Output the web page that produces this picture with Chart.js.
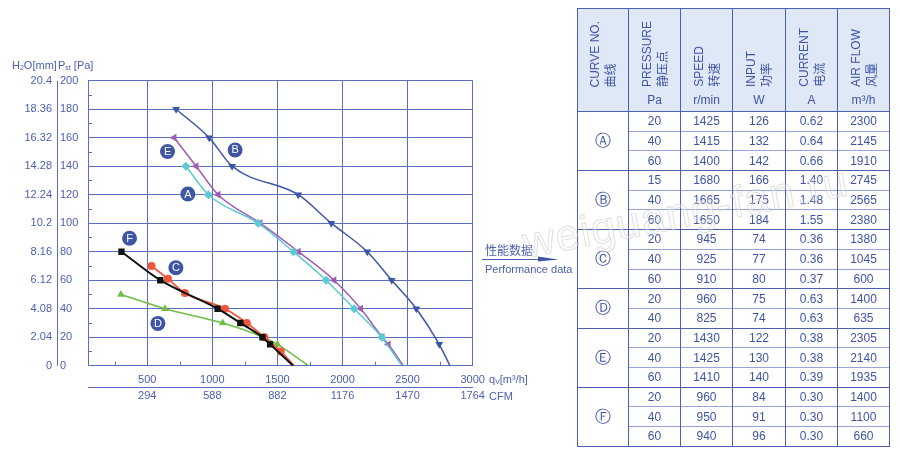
<!DOCTYPE html>
<html>
<head>
<meta charset="utf-8">
<script src="https://cdn.jsdelivr.net/npm/chart.js@4/dist/chart.umd.min.js"></script>
<style>
  body { margin: 0; width: 900px; height: 456px; background: #fff; position: relative; overflow: hidden;
         font-family: "Liberation Sans", Arial, "Noto Sans CJK SC", sans-serif; color: #4a5fb2; }
  #chart { position: absolute; left: 0; top: 0; }
  .txt { position: absolute; white-space: nowrap; font-size: 11px; line-height: 14px; }
  .txt sub { font-size: 7px; vertical-align: -1px; }
  #perf { position: absolute; left: 0; top: 0; }
  #mark { position: absolute; left: 528px; top: 218px; font-size: 44px; color: rgba(255,255,255,0.3);
          -webkit-text-stroke: 1px rgba(175,175,175,0.4); transform: rotate(-11deg); transform-origin: left bottom;
          white-space: nowrap; letter-spacing: 1px; }
  #tbl { position: absolute; left: 577px; top: 8px; width: 312px; border-collapse: collapse; table-layout: fixed;
         color: #3f54a6; font-size: 12px; }
  #tbl td, #tbl th { padding: 0; text-align: center; border-left: 1px solid #4b5fb3; border-right: 1px solid #4b5fb3; }
  #tbl th { height: 102px; background: #dfe8f6; font-weight: normal; border-top: 1.5px solid #4b5fb3; border-bottom: 1.5px solid #4b5fb3; }
  #tbl td { height: 18.7px; line-height: 18px; border-top: 1px solid #97a4da; }
  #tbl tr.first td { border-top: 1.5px solid #4b5fb3; }
  #tbl tr.last td { border-bottom: 1.5px solid #4b5fb3; }
  #tbl td.id { font-family: "DejaVu Sans", sans-serif; font-size: 16px; border-top: 1.5px solid #4b5fb3; border-bottom: 1.5px solid #4b5fb3; }
  .hd { position: relative; height: 102px; }
  .rot { position: absolute; left: 0; right: 0; margin: auto; width: 32px; bottom: 24px; writing-mode: vertical-rl;
         text-orientation: sideways; transform: rotate(180deg); line-height: 16px; text-align: start; white-space: nowrap; }
  .unit { position: absolute; left: 0; right: 0; top: 84px; line-height: 14px; }
</style>
</head>
<body>
<canvas id="chart" width="560" height="456"></canvas>
<div class="txt" style="left:12px; top:58px;">H<sub>2</sub>O[mm]</div>
<div class="txt" style="left:58px; top:58px;">P<sub>st</sub> [Pa]</div>
<div class="txt" style="left:489px; top:372px; font-size:11px;">q<sub>V</sub>[m³/h]</div>
<div class="txt" style="left:489px; top:389px; font-size:11px;">CFM</div>
<svg id="perf" width="900" height="456">
  <line x1="482" y1="259.5" x2="556" y2="259.5" stroke="#4a5fb2" stroke-width="1"/>
  <polygon points="538,256.5 558,259.5 538,261.5" fill="#3d55a6"/>
</svg>
<div class="txt" style="left:485px; top:243px; font-size:12px; font-family:'Noto Sans CJK SC',sans-serif; line-height:14px;">性能数据</div>
<div class="txt" style="left:485px; top:262px; font-size:11px;">Performance data</div>
<table id="tbl"></table>
<div id="mark">weiguang-fan.ru</div>
<script>
// flow axis (m3/h) and its CFM twin, pressure axis (Pa) and its mm H2O twin
const flowTicks = [500, 1000, 1500, 2000, 2500, 3000];
const cfmLabels = ['294', '588', '882', '1176', '1470', '1764'];
const paTicks = [0, 20, 40, 60, 80, 100, 120, 140, 160, 180, 200];
const h2oLabels = ['0', '2.04', '4.08', '6.12', '8.16', '10.2', '12.24', '14.28', '16.32', '18.36', '20.4'];

// curves: air flow (m3/h) vs static pressure (Pa)
const flowA = [797, 970, 1352, 1623, 1874, 2089, 2301, 2455];
const paA   = [140, 120, 100, 80, 60, 40, 20, 0];
const flowB = [722, 976, 1152, 1660, 1914, 2190, 2378, 2567, 2743, 2825];
const paB   = [180, 160, 140, 120, 100, 80, 60, 40, 15, 0];
const flowC = [533, 659, 789, 1097, 1265, 1400, 1526, 1628];
const paC   = [70, 61, 51, 40, 30, 20, 10, 0];
const flowD = [298, 636, 1080, 1392, 1500, 1738];
const paD   = [50, 40, 30, 20, 15, 0];
const flowE = [707, 876, 1045, 1367, 1661, 1935, 2140, 2305, 2352, 2467];
const paE   = [160, 140, 120, 100, 80, 60, 40, 20, 15, 0];
const flowF = [302, 600, 1040, 1215, 1385, 1444, 1620];
const paF   = [80, 60, 40, 30, 20, 15, 0];

// curve name badges
const badgeText = ['A', 'B', 'C', 'D', 'E', 'F'];
const badgeFlow = [812, 1175, 720, 582, 656, 364];
const badgePa   = [120.5, 151.4, 68.7, 29.7, 150.3, 89.4];

// performance table
const curveIds  = ['Ⓐ', 'Ⓑ', 'Ⓒ', 'Ⓓ', 'Ⓔ', 'Ⓕ'];
const curveRows = [3, 3, 3, 2, 3, 3];
const pressurePa = [20, 40, 60, 15, 40, 60, 20, 40, 60, 20, 40, 20, 40, 60, 20, 40, 60];
const speedRpm   = [1425, 1415, 1400, 1680, 1665, 1650, 945, 925, 910, 960, 825, 1430, 1425, 1410, 960, 950, 940];
const inputW     = [126, 132, 142, 166, 175, 184, 74, 77, 80, 75, 74, 122, 130, 140, 84, 91, 96];
const currentA   = ['0.62', '0.64', '0.66', '1.40', '1.48', '1.55', '0.36', '0.36', '0.37', '0.63', '0.63', '0.38', '0.38', '0.39', '0.30', '0.30', '0.30'];
const airflowM3h = [2300, 2145, 1910, 2745, 2565, 2380, 1380, 1045, 600, 1400, 635, 2305, 2140, 1935, 1400, 1100, 660];

const headers = [
  ['CURVE NO.', '曲线', ''], ['PRESSURE', '静压点', 'Pa'], ['SPEED', '转速', 'r/min'],
  ['INPUT', '功率', 'W'], ['CURRENT', '电流', 'A'], ['AIR FLOW', '风量', 'm³/h']
];

const tbl = document.getElementById('tbl');
let html = '<colgroup><col style="width:51px"><col style="width:52px"><col style="width:52px"><col style="width:53px"><col style="width:52px"><col style="width:52px"></colgroup>';
html += '<tr>' + headers.map(h => '<th><div class="hd"><div class="rot">' + h[0] + '<br>' + h[1] + '</div><div class="unit">' + h[2] + '</div></div></th>').join('') + '</tr>';
let r = 0;
curveIds.forEach((id, g) => {
  for (let k = 0; k < curveRows[g]; k++) {
    const cls = (k === 0 ? 'first' : '') + (k === curveRows[g] - 1 ? ' last' : '');
    html += '<tr class="' + cls + '">';
    if (k === 0) html += '<td class="id" rowspan="' + curveRows[g] + '">' + id + '</td>';
    html += '<td>' + pressurePa[r] + '</td><td>' + speedRpm[r] + '</td><td>' + inputW[r] + '</td><td>' + currentA[r] + '</td><td>' + airflowM3h[r] + '</td></tr>';
    r++;
  }
});
tbl.innerHTML = html;

const gridBlue = '#5a6ec2';
const textBlue = '#4a5fb2';
const fontFam = '"Liberation Sans", Arial, sans-serif';

function curve(flow, pa, color, style, rot, w, size) {
  return {
    data: flow.map((f, i) => ({ x: f, y: pa[i] })),
    showLine: true,
    borderColor: color,
    backgroundColor: color,
    borderWidth: w,
    pointStyle: style,
    rotation: rot,
    pointRadius: flow.map((f, i) => i === flow.length - 1 ? 0 : size),
    pointBorderWidth: 0,
    cubicInterpolationMode: 'monotone'
  };
}

const extras = {
  id: 'extras',
  beforeDatasetsDraw(chart) {
    const { ctx, scales: { x, y } } = chart;
    ctx.save();
    ctx.strokeStyle = gridBlue;
    ctx.lineWidth = 1;
    ctx.beginPath();
    for (let v = 250; v < 3000; v += 500) {
      const px = Math.round(x.getPixelForValue(v)) + 0.5;
      ctx.moveTo(px, y.bottom); ctx.lineTo(px, y.bottom - 4);
    }
    for (let v = 10; v < 200; v += 20) {
      const py = Math.round(y.getPixelForValue(v)) + 0.5;
      ctx.moveTo(x.left, py); ctx.lineTo(x.left + 4, py);
    }
    // thin rule between the two pressure scales
    ctx.moveTo(y.left - 2.5, y.top); ctx.lineTo(y.left - 2.5, y.bottom);
    ctx.stroke();
    ctx.restore();
  },
  afterDatasetsDraw(chart) {
    const { ctx, scales: { x, y } } = chart;
    ctx.save();
    ctx.font = '11px ' + fontFam;
    ctx.textAlign = 'center';
    ctx.textBaseline = 'middle';
    badgeText.forEach((t, i) => {
      const px = x.getPixelForValue(badgeFlow[i]);
      const py = y.getPixelForValue(badgePa[i]);
      ctx.fillStyle = '#3f56a6';
      ctx.beginPath(); ctx.arc(px, py, 7.5, 0, Math.PI * 2); ctx.fill();
      ctx.fillStyle = '#fff';
      ctx.fillText(t, px, py + 0.5);
    });
    ctx.restore();
  }
};

const tickFont = { size: 11, family: fontFam };

new Chart(document.getElementById('chart'), {
  type: 'scatter',
  data: {
    datasets: [
      curve(flowF, paF, '#111111', 'rect', 0, 2, 4.5),
      curve(flowC, paC, '#f0563c', 'circle', 0, 1.8, 4),
      curve(flowD, paD, '#6ebe44', 'triangle', 0, 1.5, 4.5),
      curve(flowA, paA, '#5cc9d4', 'rectRot', 0, 1.5, 4.5),
      curve(flowE, paE, '#a05cb4', 'triangle', 270, 1.5, 4.5),
      curve(flowB, paB, '#3d55a6', 'triangle', 180, 1.5, 4.5)
    ]
  },
  options: {
    responsive: false,
    animation: false,
    layout: { padding: { left: 0, top: 80.7, right: 87.3, bottom: 48.3 } },
    plugins: { legend: { display: false }, tooltip: { enabled: false } },
    scales: {
      x: {
        type: 'linear', position: 'bottom', weight: 0, min: 45, max: 3000,
        afterBuildTicks: s => { s.ticks = flowTicks.map(v => ({ value: v })); },
        afterFit: s => { s.height = 22; },
        grid: { color: gridBlue, lineWidth: 1, drawTicks: false },
        border: { color: gridBlue, width: 1 },
        ticks: { color: textBlue, font: tickFont, padding: 8, maxRotation: 0, callback: (v, i) => String(flowTicks[i]) }
      },
      x2: {
        type: 'linear', position: 'bottom', weight: 1, min: 45, max: 3000,
        afterBuildTicks: s => { s.ticks = flowTicks.map(v => ({ value: v })); },
        afterFit: s => { s.height = 20; },
        grid: { drawOnChartArea: false, drawTicks: false },
        border: { color: gridBlue, width: 1 },
        ticks: { color: textBlue, font: tickFont, padding: 2, maxRotation: 0, callback: (v, i) => cfmLabels[i] }
      },
      y: {
        type: 'linear', position: 'left', weight: 0, min: 0, max: 200,
        afterBuildTicks: s => { s.ticks = paTicks.map(v => ({ value: v })); },
        afterFit: s => { s.width = 28; },
        grid: { color: gridBlue, lineWidth: 1, drawTicks: false },
        border: { color: gridBlue, width: 1 },
        ticks: { color: textBlue, font: tickFont, crossAlign: 'far', callback: (v, i) => String(paTicks[i]) }
      },
      y2: {
        type: 'linear', position: 'left', weight: 1, min: 0, max: 200,
        afterBuildTicks: s => { s.ticks = paTicks.map(v => ({ value: v })); },
        afterFit: s => { s.width = 60; },
        grid: { drawOnChartArea: false, drawTicks: false },
        border: { display: false },
        ticks: { color: textBlue, font: tickFont, padding: 8, callback: (v, i) => h2oLabels[i] }
      }
    }
  },
  plugins: [extras]
});
</script>
</body>
</html>
